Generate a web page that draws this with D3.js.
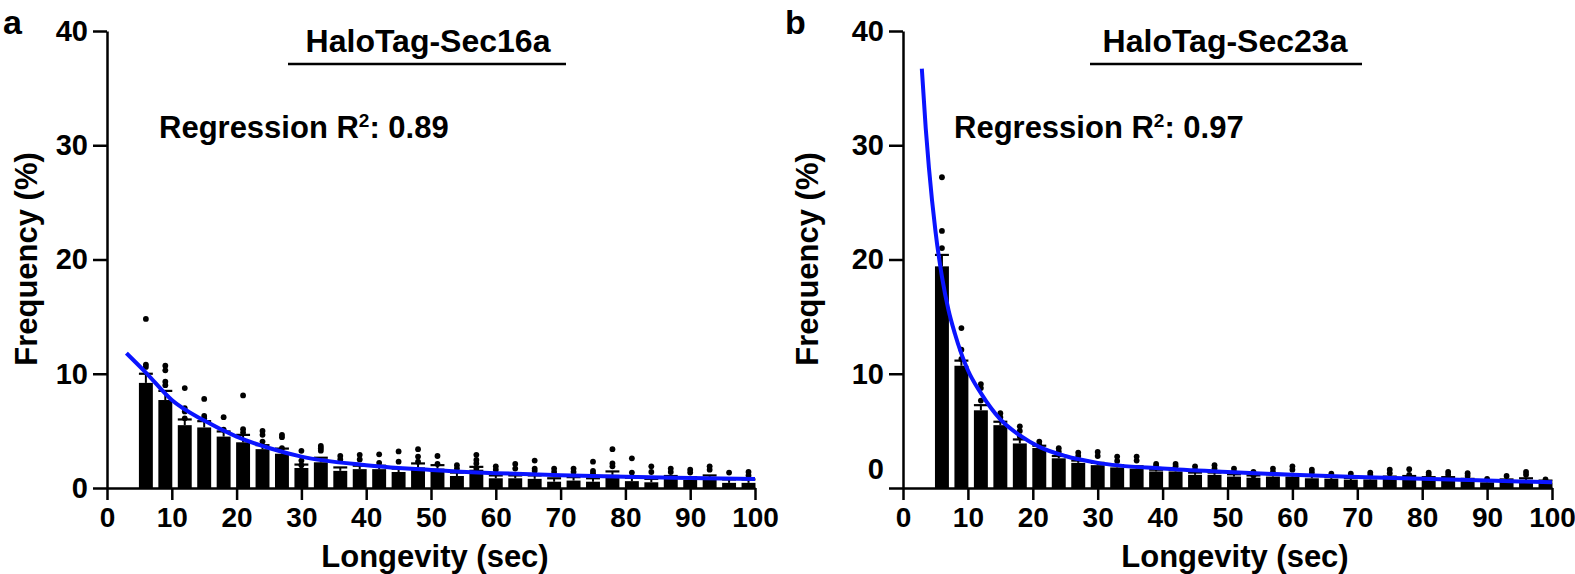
<!DOCTYPE html>
<html>
<head>
<meta charset="utf-8">
<script src="https://cdn.jsdelivr.net/npm/d3@7"></script>
<style>
  html, body { margin: 0; padding: 0; background: #fff; }
  svg text { font-family: "Liberation Sans", Arial, sans-serif; font-weight: bold; fill: #000; }
</style>
</head>
<body>
<div id="chart"></div>
<script>
// bins (sec) ---------------------------------------------------------------------------------
const binCenters = [6, 9, 12, 15, 18, 21, 24, 27, 30, 33, 36, 39, 42, 45, 48, 51,
  54, 57, 60, 63, 66, 69, 72, 75, 78, 81, 84, 87, 90, 93, 96, 99];
const xTicks = [0, 10, 20, 30, 40, 50, 60, 70, 80, 90, 100];
const yTicks = [0, 10, 20, 30, 40];

// HaloTag-Sec16a ------------------------------------------------------------------------------
const sec16Mean = [9.2, 7.7, 5.5, 5.3, 4.5, 4.0, 3.4, 3.0, 1.75, 2.25, 1.5, 1.65, 1.65, 1.4, 1.8, 1.7,
  1.05, 1.6, 0.85, 0.85, 0.8, 0.55, 0.65, 0.55, 1.15, 0.6, 0.5, 0.8, 0.7, 0.85, 0.45, 0.45];
const sec16Sem = [0.8, 0.8, 0.5, 0.55, 0.45, 0.65, 0.35, 0.45, 0.3, 0.4, 0.3, 0.3, 0.3, 0.3, 0.35, 0.3,
  0.3, 0.25, 0.25, 0.25, 0.3, 0.3, 0.3, 0.3, 0.3, 0.3, 0.3, 0.25, 0.25, 0.25, 0.3, 0.3];
const sec16Dots = [[14.8, 10.8, 10.6], [10.7, 10.3, 9.3, 9.0], [8.75, 7.0, 6.7, 6.1], [7.8, 6.3, 6.1],
  [6.2, 5.1], [8.1, 5.15, 4.85], [5.0, 4.65, 4.06], [4.65, 4.45, 3.48], [3.25, 2.4, 2.0],
  [3.68, 3.48, 3.27], [2.8, 2.5], [2.9, 2.5], [2.95, 2.2], [3.2, 2.3], [3.4, 2.75, 2.3], [2.8, 2.1],
  [2.0, 1.7], [2.9, 2.45, 2.15, 1.7], [1.9, 1.6], [2.1, 1.7], [2.4, 1.7, 1.5], [1.7, 1.4], [1.7, 1.4],
  [2.3, 1.5, 1.3], [3.4, 2.15, 1.9], [2.6, 1.35], [1.9, 1.4], [1.7, 1.4], [1.6, 1.35], [1.9, 1.6],
  [1.35], [1.4, 1.1]];
const sec16Fit = [[3, 11.8], [6, 10.1], [10, 7.7], [15, 5.9], [20, 4.5], [25, 3.5], [30, 2.75],
  [40, 2.0], [50, 1.58], [60, 1.3], [70, 1.12], [80, 0.98], [90, 0.88], [100, 0.79]];

// HaloTag-Sec23a ------------------------------------------------------------------------------
const sec23Mean = [19.4, 10.7, 6.8, 5.5, 3.9, 3.5, 2.6, 2.2, 2.0, 1.8, 1.7, 1.45, 1.45, 1.15, 1.15, 1.0,
  0.9, 1.0, 1.0, 0.85, 0.8, 0.7, 0.75, 0.8, 0.85, 0.8, 0.75, 0.6, 0.5, 0.6, 0.65, 0.5];
const sec23Sem = [1.0, 0.45, 0.45, 0.3, 0.35, 0.2, 0.2, 0.2, 0.2, 0.2, 0.2, 0.15, 0.15, 0.2, 0.2, 0.2,
  0.2, 0.2, 0.2, 0.2, 0.15, 0.15, 0.2, 0.2, 0.2, 0.15, 0.2, 0.2, 0.15, 0.15, 0.2, 0.15];
const sec23Dots = [[27.2, 22.5, 21.0], [14.0, 12.1, 11.3], [9.1, 8.75, 7.65], [6.55, 6.2],
  [5.4, 5.0, 4.5], [4.06, 3.77], [3.48, 3.18], [3.1, 2.8], [3.15, 2.8], [2.75, 2.37], [2.75, 2.4],
  [2.1, 1.93], [2.1, 1.9], [1.9, 1.6], [2.0, 1.7], [1.7, 1.4], [1.4, 1.1], [1.7, 1.4], [1.9, 1.6],
  [1.6, 1.35], [1.25], [1.25], [1.35, 1.15], [1.6, 1.3], [1.65, 1.15], [1.35, 1.15], [1.4, 1.15],
  [1.3, 1.05], [0.8], [1.05], [1.4, 1.15], [0.75]];
const sec23Fit = [[2.9, 36.7], [3.5, 31.5], [4, 28], [5, 22.5], [6, 18.5], [7, 15.6], [8, 13.5],
  [10, 10.3], [12, 8.3], [15, 6.0], [18, 4.6], [21, 3.6], [25, 2.8], [30, 2.2], [40, 1.7],
  [50, 1.4], [60, 1.15], [70, 0.97], [80, 0.8], [90, 0.65], [100, 0.5]];

// -------------------------------------------------------------------------------------------
const width = 1575;
const height = 574;
const svg = d3.select('#chart').append('svg')
  .attr('width', width)
  .attr('height', height);

const panels = [
  { letter: 'a', letterX: 3, title: 'HaloTag-Sec16a', r2: '0.89',
    x0: 107, x1: 755, lineX: [288, 566], titleX: 428, regX: 159, yLabelX: 37, xLabelX: 435,
    mean: sec16Mean, sem: sec16Sem, dots: sec16Dots, fit: sec16Fit, zeroShift: 0 },
  { letter: 'b', letterX: 785, title: 'HaloTag-Sec23a', r2: '0.97',
    x0: 903, x1: 1552, lineX: [1090, 1362], titleX: 1225, regX: 954, yLabelX: 818, xLabelX: 1235,
    mean: sec23Mean, sem: sec23Sem, dots: sec23Dots, fit: sec23Fit, zeroShift: -19 }
];

const barW = 2.15; // in sec

panels.forEach(p => {
  const g = svg.append('g');
  // スケール------------------------------------------------------------------------------
  const xScale = d3.scaleLinear().domain([0, 100]).range([p.x0, p.x1]);
  const yScale = d3.scaleLinear().domain([0, 40]).range([488, 31]);

  // bars
  g.selectAll('.bar')
    .data(binCenters)
    .enter().append('rect')
    .attr('class', 'bar')
    .attr('x', d => xScale(d - barW / 2))
    .attr('width', xScale(barW) - xScale(0))
    .attr('y', (d, i) => yScale(p.mean[i]))
    .attr('height', (d, i) => yScale(0) - yScale(p.mean[i]))
    .attr('fill', '#000');

  // error bars (mean + SEM)
  const err = g.selectAll('.err')
    .data(binCenters)
    .enter().append('g')
    .attr('class', 'err');
  err.append('line')
    .attr('x1', d => xScale(d)).attr('x2', d => xScale(d))
    .attr('y1', (d, i) => yScale(p.mean[i]))
    .attr('y2', (d, i) => yScale(p.mean[i] + p.sem[i]))
    .attr('stroke', '#000').attr('stroke-width', 2);
  err.append('line')
    .attr('x1', d => xScale(d - barW / 2)).attr('x2', d => xScale(d + barW / 2))
    .attr('y1', (d, i) => yScale(p.mean[i] + p.sem[i]))
    .attr('y2', (d, i) => yScale(p.mean[i] + p.sem[i]))
    .attr('stroke', '#000').attr('stroke-width', 2.2);

  // dots
  const dotData = [];
  binCenters.forEach((c, i) => p.dots[i].forEach(v => dotData.push({ x: c, y: v })));
  g.selectAll('.dot')
    .data(dotData)
    .enter().append('circle')
    .attr('class', 'dot')
    .attr('cx', d => xScale(d.x))
    .attr('cy', d => yScale(d.y))
    .attr('r', 2.9)
    .attr('fill', '#000');

  // fit curve
  g.append('path')
    .datum(p.fit)
    .attr('fill', 'none')
    .attr('stroke', '#0a14ff')
    .attr('stroke-width', 4)
    .attr('d', d3.line()
      .x(d => xScale(d[0]))
      .y(d => yScale(d[1]))
      .curve(d3.curveMonotoneX));

  // x軸
  const xAxis = g.append('g')
    .attr('transform', 'translate(0,' + yScale(0) + ')')
    .call(d3.axisBottom(xScale).tickValues(xTicks).tickSize(12).tickSizeOuter(0).tickPadding(7));
  xAxis.selectAll('text').attr('font-size', '28px');
  // y軸
  const yAxis = g.append('g')
    .attr('transform', 'translate(' + p.x0 + ',0)')
    .call(d3.axisLeft(yScale).tickValues(yTicks).tickSize(14).tickSizeOuter(0).tickPadding(5));
  yAxis.selectAll('text').attr('font-size', '29px');
  yAxis.selectAll('.tick').filter(d => d === 0).select('text').attr('y', p.zeroShift);
  g.selectAll('.domain, .tick line')
    .attr('stroke', '#000')
    .attr('stroke-width', 2.5);
  g.selectAll('.tick text').style('font-weight', 'bold');

  // labels
  g.append('text')
    .attr('transform', 'translate(' + p.yLabelX + ',259) rotate(-90)')
    .attr('text-anchor', 'middle')
    .attr('font-size', '31px')
    .text('Frequency (%)');
  g.append('text')
    .attr('x', p.xLabelX).attr('y', 567)
    .attr('text-anchor', 'middle')
    .attr('font-size', '31px')
    .text('Longevity (sec)');

  // title + underline
  g.append('text')
    .attr('x', p.titleX).attr('y', 52)
    .attr('text-anchor', 'middle')
    .attr('font-size', '32px')
    .text(p.title);
  g.append('line')
    .attr('x1', p.lineX[0]).attr('x2', p.lineX[1])
    .attr('y1', 64).attr('y2', 64)
    .attr('stroke', '#000').attr('stroke-width', 2.5);

  // regression text
  const reg = g.append('text')
    .attr('x', p.regX).attr('y', 138)
    .attr('font-size', '31px');
  reg.append('tspan').text('Regression R');
  reg.append('tspan').attr('font-size', '19px').attr('dy', -11).text('2');
  reg.append('tspan').attr('dy', 11).text(': ' + p.r2);

  // panel letter
  svg.append('text')
    .attr('x', p.letterX).attr('y', 34)
    .attr('font-size', '34px')
    .text(p.letter);
});
</script>
</body>
</html>
